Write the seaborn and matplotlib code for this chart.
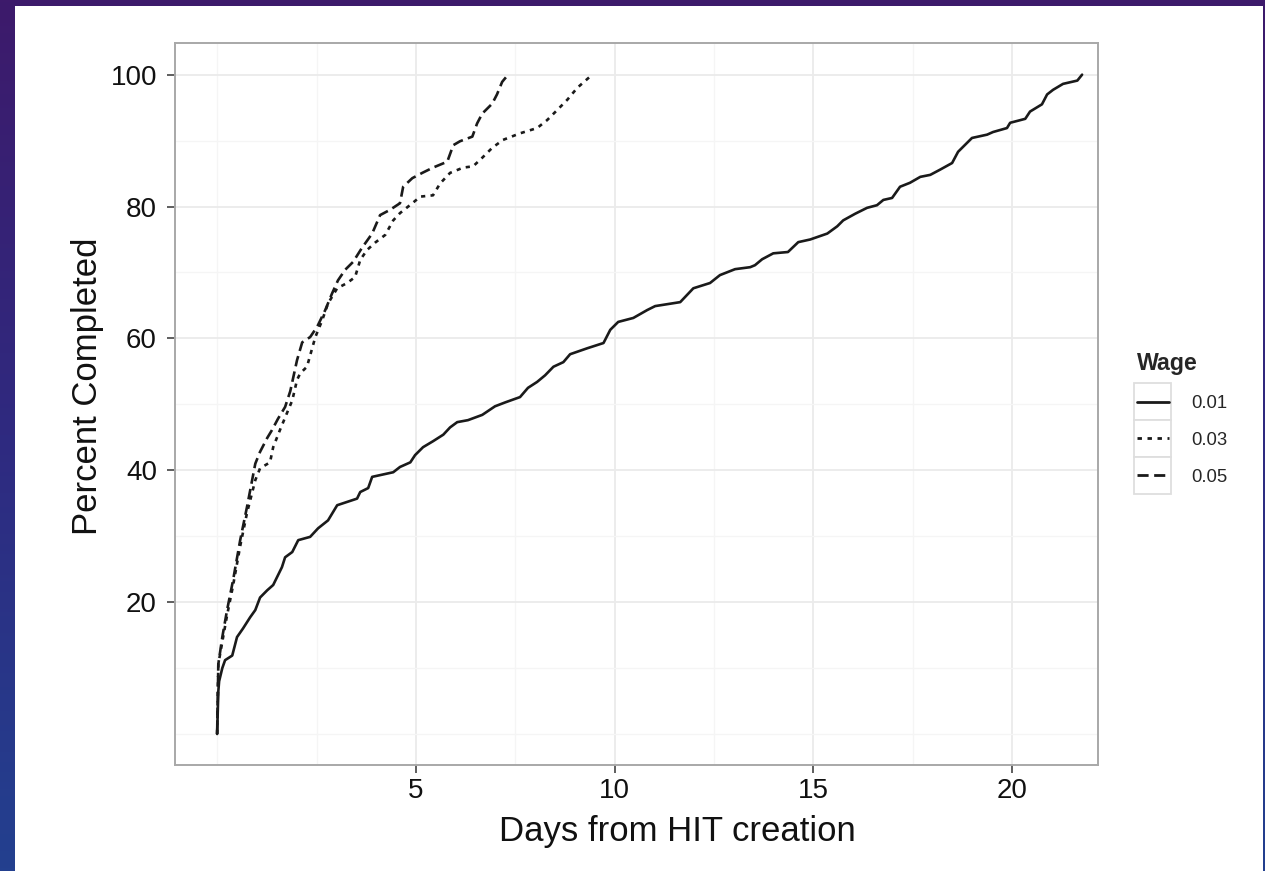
import numpy as np
import pandas as pd
import matplotlib.pyplot as plt
import matplotlib.patches as mpatches
from matplotlib.colors import LinearSegmentedColormap
import seaborn as sns

# valores
days_001 = [0, 0.03, 0.05, 0.13, 0.2, 0.38, 0.5, 0.65, 0.83, 0.96, 1.08, 1.26, 1.41, 1.63, 1.71,
            1.89, 2.04, 2.34, 2.54, 2.79, 3.02, 3.52, 3.6, 3.8, 3.9, 4.43, 4.6, 4.86, 4.98, 5.18,
            5.43, 5.69, 5.86, 6.04, 6.31, 6.67, 6.99, 7.25, 7.62, 7.82, 8.05, 8.25, 8.46, 8.71,
            8.88, 9.31, 9.72, 9.89, 10.09, 10.47, 10.82, 11.02, 11.65, 11.98, 12.4, 12.65, 13.03,
            13.41, 13.53, 13.71, 13.99, 14.36, 14.62, 14.92, 15.35, 15.6, 15.75, 16.05, 16.35,
            16.6, 16.76, 16.98, 17.18, 17.43, 17.69, 17.94, 18.19, 18.49, 18.64, 18.99, 19.37,
            19.52, 19.87, 19.95, 20.33, 20.45, 20.75, 20.88, 21.03, 21.28, 21.64, 21.76]
pct_001 = [0, 6.5, 8, 10, 11.2, 11.9, 14.7, 16, 17.7, 18.8, 20.7, 21.8, 22.6, 25.3, 26.8,
           27.6, 29.4, 29.9, 31.2, 32.4, 34.7, 35.7, 36.7, 37.3, 39, 39.7, 40.5, 41.2, 42.3, 43.5,
           44.4, 45.4, 46.5, 47.3, 47.6, 48.4, 49.7, 50.3, 51.1, 52.5, 53.4, 54.4, 55.7, 56.4,
           57.6, 58.5, 59.3, 61.3, 62.5, 63.1, 64.3, 64.9, 65.5, 67.6, 68.4, 69.6, 70.5,
           70.8, 71.1, 72.0, 72.9, 73.1, 74.6, 75.0, 75.9, 77.0, 77.9, 78.9, 79.8,
           80.2, 81.0, 81.3, 83.0, 83.6, 84.5, 84.8, 85.6, 86.6, 88.3, 90.4, 90.9,
           91.3, 91.9, 92.7, 93.3, 94.4, 95.5, 97.0, 97.7, 98.6, 99.1, 100]

days_003 = [0, 0.03, 0.13, 0.25, 0.4, 0.58, 0.75, 0.96, 1.08, 1.33, 1.41, 1.58, 1.71, 1.89,
            2.01, 2.09, 2.26, 2.47, 2.64, 2.79, 3.02, 3.27, 3.47, 3.6, 3.77, 3.97, 4.23, 4.43,
            4.6, 4.91, 5.11, 5.43, 5.61, 5.86, 6.19, 6.44, 6.67, 6.92, 7.19, 7.62, 8.05, 8.3,
            8.55, 8.81, 9.06, 9.38, 9.42]
pct_003 = [0, 10.6, 14, 18, 22.5, 28.5, 33.5, 38.5, 40.3, 41.2, 43.5, 46.1, 48, 50.6,
           53.7, 54.7, 55.7, 60.2, 62.7, 65.3, 67.6, 68.4, 69.3, 71.9, 73.4, 74.5, 75.7, 77.9,
           79, 80.5, 81.5, 81.7, 83.5, 85.1, 85.9, 86.1, 87.4, 88.9, 90.1, 91.1, 91.9, 93.1,
           94.6, 96.2, 98, 99.7, 100]

days_005 = [0, 0.03, 0.13, 0.25, 0.4, 0.58, 0.75, 0.96, 1.08, 1.26, 1.38, 1.53, 1.71, 1.84,
            2.01, 2.14, 2.34, 2.52, 2.72, 2.89, 3.04, 3.22, 3.42, 3.64, 3.9, 4.1, 4.35, 4.6,
            4.68, 4.91, 5.16, 5.43, 5.79, 5.94, 6.11, 6.42, 6.54, 6.67, 6.92, 7.04, 7.17, 7.32]
pct_005 = [0, 10.6, 14.7, 18.8, 23.3, 29.4, 34.4, 41, 42.8, 44.9, 46.1, 47.8, 49.6, 52,
           56.7, 59.4, 60.2, 61.8, 64.3, 66.8, 68.8, 70.4, 71.6, 73.7, 75.9, 78.7, 79.5, 80.5,
           83, 84.3, 85.1, 85.9, 86.8, 89.3, 89.9, 90.6, 92.6, 94.1, 95.6, 97, 98.9, 100]

wages = ['0.01', '0.03', '0.05']

df = pd.concat([
    pd.DataFrame({'Days': days_001, 'Pct': pct_001, 'Wage': '0.01'}),
    pd.DataFrame({'Days': days_003, 'Pct': pct_003, 'Wage': '0.03'}),
    pd.DataFrame({'Days': days_005, 'Pct': pct_005, 'Wage': '0.05'}),
], ignore_index=True)

sns.set_theme(style='white')
plt.rcParams['font.family'] = ['Liberation Sans', 'DejaVu Sans']

fig = plt.figure(figsize=(12.65, 8.71), dpi=100)

# fundo do slide (degrade roxo -> azul) e area branca
bg = fig.add_axes([0, 0, 1, 1], zorder=-10)
grad = np.linspace(0, 1, 256).reshape(-1, 1)
cmap = LinearSegmentedColormap.from_list('slide', ['#3d1a6b', '#2f2a80', '#23408f'])
bg.imshow(grad, aspect='auto', cmap=cmap, extent=[0, 1, 0, 1], origin='upper')
bg.add_patch(mpatches.Rectangle((15 / 1265, 0), (1263 - 15) / 1265, 1 - 6 / 871,
                                facecolor='white', edgecolor='none'))
bg.set_xlim(0, 1)
bg.set_ylim(0, 1)
bg.axis('off')

ax = fig.add_axes([175 / 1265, 1 - 765 / 871, (1098 - 175) / 1265, (765 - 43) / 871])
ax.set_facecolor('white')

sns.lineplot(data=df, x='Days', y='Pct', style='Wage', style_order=wages,
             dashes={'0.01': '', '0.03': (1.6, 2.0), '0.05': (4.0, 2.0)},
             color='#1a1a1a', linewidth=1.9, estimator=None, sort=False, ax=ax)

ax.set_xlim(-1.06, 22.16)
ax.set_ylim(-4.7, 104.8)
ax.set_xticks([5, 10, 15, 20])
ax.set_yticks([20, 40, 60, 80, 100])
ax.set_xticks([0, 2.5, 7.5, 12.5, 17.5], minor=True)
ax.set_yticks([0, 10, 30, 50, 70, 90], minor=True)
ax.grid(True, which='major', color='#ebebeb', linewidth=1.3)
ax.grid(True, which='minor', color='#f5f5f5', linewidth=1.0)
ax.set_axisbelow(True)
for s in ax.spines.values():
    s.set_color('#a8a8a8')
    s.set_linewidth(1.4)

ax.tick_params(which='major', direction='out', length=6, width=1.1, color='#333333',
               labelsize=20, labelcolor='#111111', left=True, bottom=True)
ax.tick_params(axis='x', which='major', pad=3)
ax.tick_params(axis='y', which='major', pad=7)
ax.tick_params(which='minor', length=0)

ax.set_xlabel('Days from HIT creation', fontsize=25, color='#111111')
ax.set_ylabel('Percent Completed', fontsize=25, color='#111111')
ax.xaxis.set_label_coords(0.544, -0.069)
ax.yaxis.set_label_coords(-0.077, 0.525)

handles, labels = ax.get_legend_handles_labels()
ax.get_legend().remove()
leg = fig.legend(handles, labels, title='Wage', loc='upper left',
                 bbox_to_anchor=(1128 / 1265, 1 - 343 / 871), frameon=False,
                 fontsize=13.3, title_fontproperties={'weight': 'bold', 'size': 16.7},
                 handlelength=1.7, handletextpad=1.23, labelspacing=1.07,
                 borderpad=0, alignment='left')
for h in leg.legend_handles:
    h.set_linewidth(2.0)

# caixas cinzas das chaves da legenda (estilo ggplot)
fig.canvas.draw()
r = fig.canvas.get_renderer()
inv = fig.transFigure.inverted()
for h in leg.legend_handles:
    bb = h.get_window_extent(r)
    cx, cy = (bb.x0 + bb.x1) / 2, (bb.y0 + bb.y1) / 2
    (x0, y0), (x1, y1) = inv.transform([(cx - 18.5, cy - 18.5), (cx + 18.5, cy + 18.5)])
    fig.patches.append(mpatches.Rectangle((x0, y0), x1 - x0, y1 - y0, transform=fig.transFigure,
                                          facecolor='white', edgecolor='#dedede', linewidth=1.3,
                                          zorder=-1, figure=fig))

fig.savefig('out.png', dpi=100)
